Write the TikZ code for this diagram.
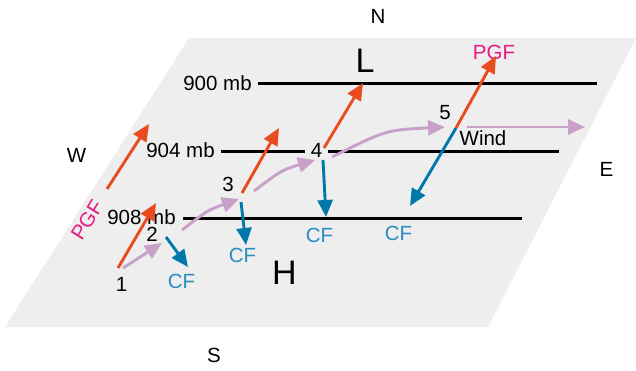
\documentclass[tikz,border=0pt]{standalone}
\usepackage{fontspec}
\setmainfont{Liberation Sans}
\usetikzlibrary{arrows.meta}
\definecolor{bg}{HTML}{EEEEEE}
\definecolor{pgfor}{HTML}{E84C1E}
\definecolor{cfblue}{HTML}{0079AA}
\definecolor{cftext}{HTML}{2A8CC0}
\definecolor{pgftext}{HTML}{E6197F}
\definecolor{windc}{HTML}{C8A0C8}
\begin{document}
\begin{tikzpicture}[x=1pt,y=-1pt,
  lbl/.style={inner sep=0pt,font=\fontsize{20.5}{22}\selectfont},
  biglbl/.style={inner sep=0pt,font=\fontsize{34}{36}\selectfont},
  cflbl/.style={lbl,text=cftext},
  isobar/.style={line width=3pt,black},
  tipA/.style={-{Triangle[length=17pt,width=15pt]}},
  pgfarrow/.style={tipA,line width=2.9pt,pgfor},
  cfarrow/.style={tipA,line width=2.9pt,cfblue},
  windarrow/.style={tipA,line width=2.9pt,windc}]
\useasboundingbox (0,0) rectangle (636,371);
% plane
\fill[bg] (189,38) -- (636,38) -- (488,327) -- (5,327) -- cycle;
% compass
\node[lbl] (N) at (378,16.5) {N};
\node[lbl] (S) at (214,355.5) {S};
\node[lbl] (W) at (76.5,155) {W};
\node[lbl] (E) at (606.5,169.5) {E};
% isobars
\node[lbl] (t900) at (217.5,83.5) {900 mb};
\node[lbl] (t904) at (180.5,150.5) {904 mb};
\node[lbl] (t908) at (141.5,217) {908 mb};
\coordinate (a900) at (258,84); \coordinate (b900) at (597,84);
\coordinate (a904) at (221,152); \coordinate (b904) at (559,152);
\coordinate (a908) at (183,218); \coordinate (b908) at (522,218);
\draw[isobar] (a900) -- (b900);
\draw[isobar] (a904) -- (b904);
\draw[isobar] (a908) -- (b908);
% L and H
\node[biglbl] (L) at (365,60.5) {L};
\node[biglbl] (H) at (284.5,272.5) {H};
% point labels
\node[lbl] (n1) at (121.5,284.5) {1};
\node[lbl] (n2) at (152,234.5) {2};
\node[lbl] (n3) at (228,184.5) {3};
\node[lbl,fill=bg,inner xsep=6pt,inner ysep=1pt] (n4) at (316.5,150.5) {4};
\node[lbl] (n5) at (445,112.5) {5};
\node[lbl] (wind) at (483,138.5) {Wind};
% CF labels
\node[cflbl] (cf2) at (181.5,281.5) {CF};
\node[cflbl] (cf3) at (242.5,255) {CF};
\node[cflbl] (cf4) at (319.5,235) {CF};
\node[cflbl] (cf5) at (398.5,233.5) {CF};
% PGF labels
\node[lbl,text=pgftext] (pgfT) at (494,52) {PGF};
\node[lbl,text=pgftext,rotate=58] (pgfL) at (87,220) {PGF};
% arrow end points
\coordinate (pL0) at (107,189); \coordinate (pL1) at (149,124);
\coordinate (p1) at (118,268);  \coordinate (p1t) at (156,203);
\coordinate (w1) at (123,268);  \coordinate (w1t) at (162,243);
\coordinate (c2) at (166,237);  \coordinate (c2t) at (188,267);
\coordinate (w2) at (182,230);  \coordinate (w2t) at (239,199);
\coordinate (p3) at (242,193);  \coordinate (p3t) at (279,128);
\coordinate (c3) at (241,202);  \coordinate (c3t) at (246,245);
\coordinate (w3) at (254,191);  \coordinate (w3t) at (315,160);
\coordinate (p4) at (324,148);  \coordinate (p4t) at (363,83);
\coordinate (c4) at (323,160);  \coordinate (c4t) at (326,217);
\coordinate (w4) at (332,157);  \coordinate (w4t) at (445,127);
\coordinate (p5) at (456,128);  \coordinate (p5t) at (496,56);
\coordinate (c5t) at (410,206);
\coordinate (w5) at (467,127);  \coordinate (w5t) at (585,127);
% wind arrows
\draw[windarrow] (w1) -- (w1t);
\draw[windarrow] (w2) .. controls (208,210) .. (w2t);
\draw[windarrow] (w3) .. controls (282,170) .. (w3t);
\draw[windarrow] (w4) .. controls (386,130) .. (w4t);
\draw[windarrow] (w5) -- (w5t);
% CF arrows
\draw[cfarrow] (c2) -- (c2t);
\draw[cfarrow] (c3) -- (c3t);
\draw[cfarrow] (c4) -- (c4t);
\draw[cfarrow] (p5) -- (c5t);
% PGF arrows
\draw[pgfarrow] (pL0) -- (pL1);
\draw[pgfarrow] (p1) -- (p1t);
\draw[pgfarrow] (p3) -- (p3t);
\draw[pgfarrow] (p4) -- (p4t);
\draw[pgfarrow] (p5) -- (p5t);
\end{tikzpicture}
\end{document}
